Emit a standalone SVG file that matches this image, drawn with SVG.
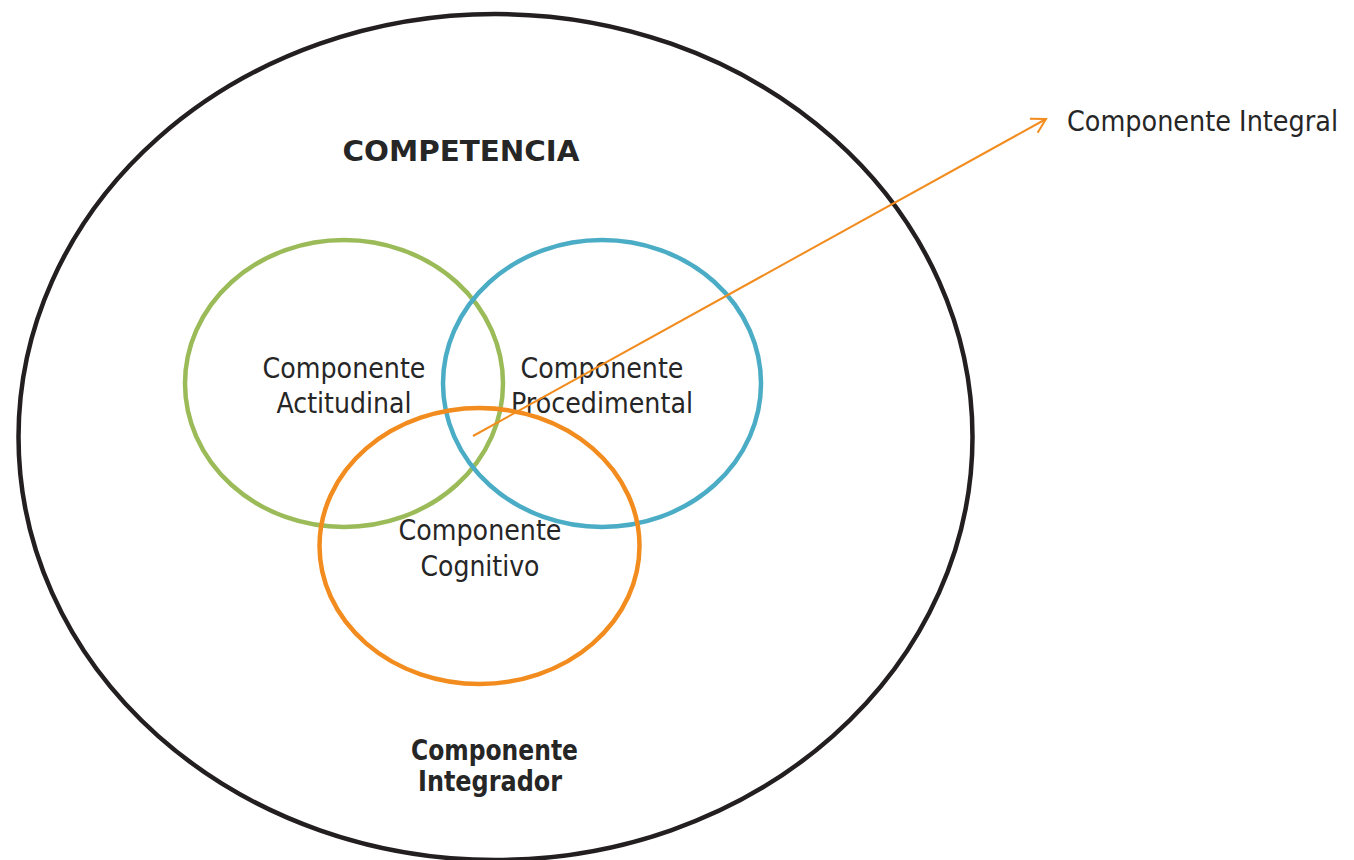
<svg xmlns="http://www.w3.org/2000/svg" width="1354" height="860" viewBox="0 0 1354 860">
<defs>
<style>
.t{font-family:"DejaVu Sans","Liberation Sans",sans-serif;fill:#262626;font-size:29px}
.b{font-weight:bold}
.ring{fill:none;stroke-width:4.5}
</style>
<marker id="ah" viewBox="0 0 20 20" refX="18" refY="10" markerWidth="20" markerHeight="20" markerUnits="userSpaceOnUse" orient="auto">
<path d="M4,2 L18,10 L4,18" fill="none" stroke="#f28c1e" stroke-width="2"/>
</marker>
</defs>
<rect width="1354" height="860" fill="#ffffff"/>
<g id="competencia">
<ellipse class="ring" cx="495.5" cy="437" rx="477" ry="423" stroke="#231f20"/>
<text class="t b" x="461" y="161" text-anchor="middle" font-size="35" textLength="237" lengthAdjust="spacingAndGlyphs">COMPETENCIA</text>
</g>
<g id="actitudinal">
<ellipse class="ring" cx="344" cy="383.5" rx="159" ry="143.5" stroke="#9bbb59"/>
<text class="t" x="344" y="378" text-anchor="middle" textLength="163" lengthAdjust="spacingAndGlyphs">Componente</text>
<text class="t" x="344" y="413" text-anchor="middle" textLength="135" lengthAdjust="spacingAndGlyphs">Actitudinal</text>
</g>
<g id="procedimental">
<ellipse class="ring" cx="602" cy="383.5" rx="159" ry="143.5" stroke="#4bacc6"/>
<text class="t" x="602" y="378" text-anchor="middle" textLength="163" lengthAdjust="spacingAndGlyphs">Componente</text>
<text class="t" x="602" y="413" text-anchor="middle" textLength="182" lengthAdjust="spacingAndGlyphs">Procedimental</text>
</g>
<g id="cognitivo">
<ellipse class="ring" cx="479.5" cy="546" rx="160" ry="138" stroke="#f28c1e"/>
<text class="t" x="480" y="540" text-anchor="middle" textLength="163" lengthAdjust="spacingAndGlyphs">Componente</text>
<text class="t" x="480" y="576" text-anchor="middle" textLength="119" lengthAdjust="spacingAndGlyphs">Cognitivo</text>
</g>
<g id="integrador">
<text class="t b" x="494.5" y="760" text-anchor="middle" font-size="26" textLength="167" lengthAdjust="spacingAndGlyphs">Componente</text>
<text class="t b" x="490" y="791" text-anchor="middle" font-size="26" textLength="144" lengthAdjust="spacingAndGlyphs">Integrador</text>
</g>
<g id="integral">
<text class="t" x="1067" y="131" font-size="27" textLength="271" lengthAdjust="spacingAndGlyphs">Componente Integral</text>
</g>
<g id="connectors">
<line x1="473" y1="436" x2="1046" y2="119" stroke="#f28c1e" stroke-width="2" marker-end="url(#ah)"/>
</g>
</svg>
